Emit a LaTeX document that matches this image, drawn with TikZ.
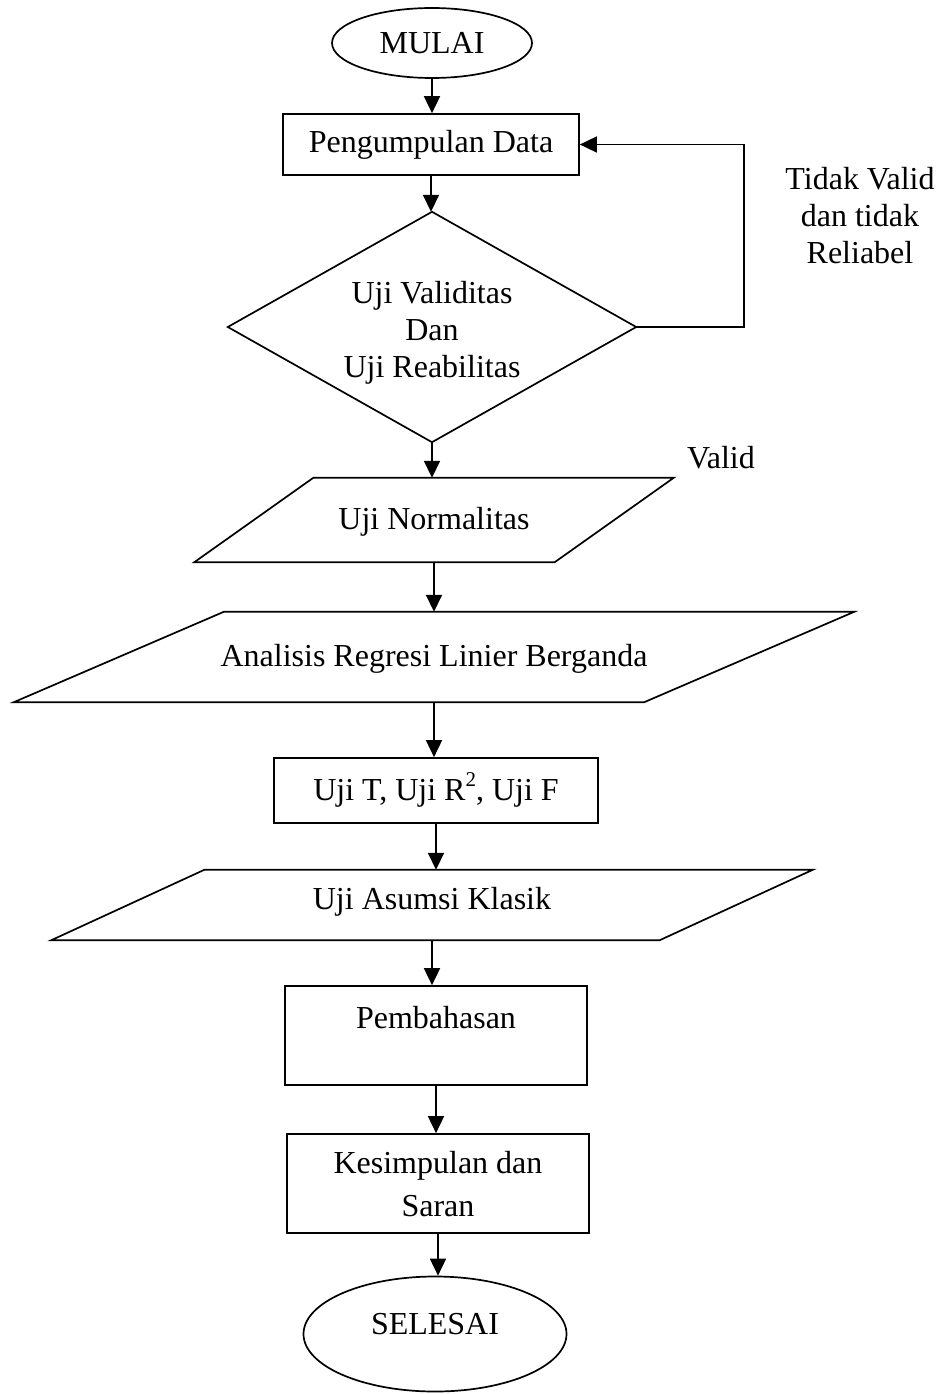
\documentclass[tikz,border=0pt]{standalone}
\usepackage{fontspec}
\setmainfont{Liberation Serif}
\usetikzlibrary{shapes.geometric,arrows.meta,calc}
\newcommand{\supr}[1]{\raisebox{0.42em}{\fontsize{21}{21}\selectfont #1}}
\begin{document}
\begin{tikzpicture}[x=1pt,y=-1pt,
  every node/.style={font=\fontsize{32}{37}\selectfont, inner sep=0pt, align=center},
  ln/.style={line width=1.7pt},
  arr/.style={ln,-{Triangle[length=17pt,width=16pt]}},
  frame/.style={draw=none, rectangle},
  lbl/.style={draw=none}
]
\useasboundingbox (0,0) rectangle (940,1394);
% start
\node[ellipse, draw, ln, minimum width=200, minimum height=70] (start) at (432,43) {MULAI};
% data collection
\node[frame, draw, ln, minimum width=296, minimum height=61] (pg) at (431,144.5) {Pengumpulan Data};
% diamond
\node[frame, minimum width=408, minimum height=230] (dec) at (432,327) {};
\draw[ln] (dec.north) -- (dec.east) -- (dec.south) -- (dec.west) -- cycle;
\node[lbl] (dect) at (432,333) {Uji Validitas\\Dan\\Uji Reabilitas};
% normalitas
\node[frame, minimum width=360, minimum height=84] (norm) at (434,520) {};
\draw[ln] ($(norm.north west)+(59.5,0)$) -- ($(norm.north east)+(59.5,0)$) -- ($(norm.south east)+(-59.5,0)$) -- ($(norm.south west)+(-59.5,0)$) -- cycle;
\node[lbl] (normt) at (434,522) {Uji Normalitas};
% regresi
\node[frame, minimum width=630, minimum height=90] (reg) at (434,657) {};
\draw[ln] ($(reg.north west)+(105,0)$) -- ($(reg.north east)+(105,0)$) -- ($(reg.south east)+(-105,0)$) -- ($(reg.south west)+(-105,0)$) -- cycle;
\node[lbl] (regt) at (434,659) {Analisis Regresi Linier Berganda};
% uji T
\node[frame, draw, ln, minimum width=324, minimum height=65] (ujit) at (436,790.5) {};
\node[lbl] (ujitt) at (436,790) {Uji T, Uji R\supr{2}, Uji F};
% asumsi
\node[frame, minimum width=608, minimum height=70] (asum) at (432,905) {};
\draw[ln] ($(asum.north west)+(76.5,0)$) -- ($(asum.north east)+(76.5,0)$) -- ($(asum.south east)+(-76.5,0)$) -- ($(asum.south west)+(-76.5,0)$) -- cycle;
\node[lbl] (asumt) at (432,902) {Uji Asumsi Klasik};
% pembahasan
\node[frame, draw, ln, minimum width=302, minimum height=99] (pemb) at (436,1035.5) {};
\node[lbl] (pembt) at (436,1018) {Pembahasan};
% kesimpulan
\node[frame, draw, ln, minimum width=302, minimum height=99] (kes) at (438,1183.5) {};
\node[lbl, font=\fontsize{32}{43}\selectfont] (kest) at (438,1184) {Kesimpulan dan\\Saran};
% end
\node[ellipse, draw, ln, minimum width=263, minimum height=115] (end) at (435,1334) {};
\node[lbl] (endt) at (435,1324) {SELESAI};
% labels
\node[lbl] (tv) at (860,216) {Tidak Valid\\dan tidak\\Reliabel};
\node[lbl] (valid) at (721,458) {Valid};
% connectors
\draw[arr] (start.south) -- (start.south |- pg.north);
\draw[arr] (pg.south) -- (pg.south |- dec.north);
\draw[arr] (dec.east) -- ++(108,0) |- (pg.east);
\draw[arr] (dec.south) -- (dec.south |- norm.north);
\draw[arr] (norm.south) -- (norm.south |- reg.north);
\draw[arr] (reg.south) -- (reg.south |- ujit.north);
\draw[arr] (ujit.south) -- (ujit.south |- asum.north);
\draw[arr] (asum.south) -- (asum.south |- pemb.north);
\draw[arr] (pemb.south) -- (pemb.south |- kes.north);
\draw[arr] (kes.south) -- (kes.south |- end.north);
\end{tikzpicture}
\end{document}
